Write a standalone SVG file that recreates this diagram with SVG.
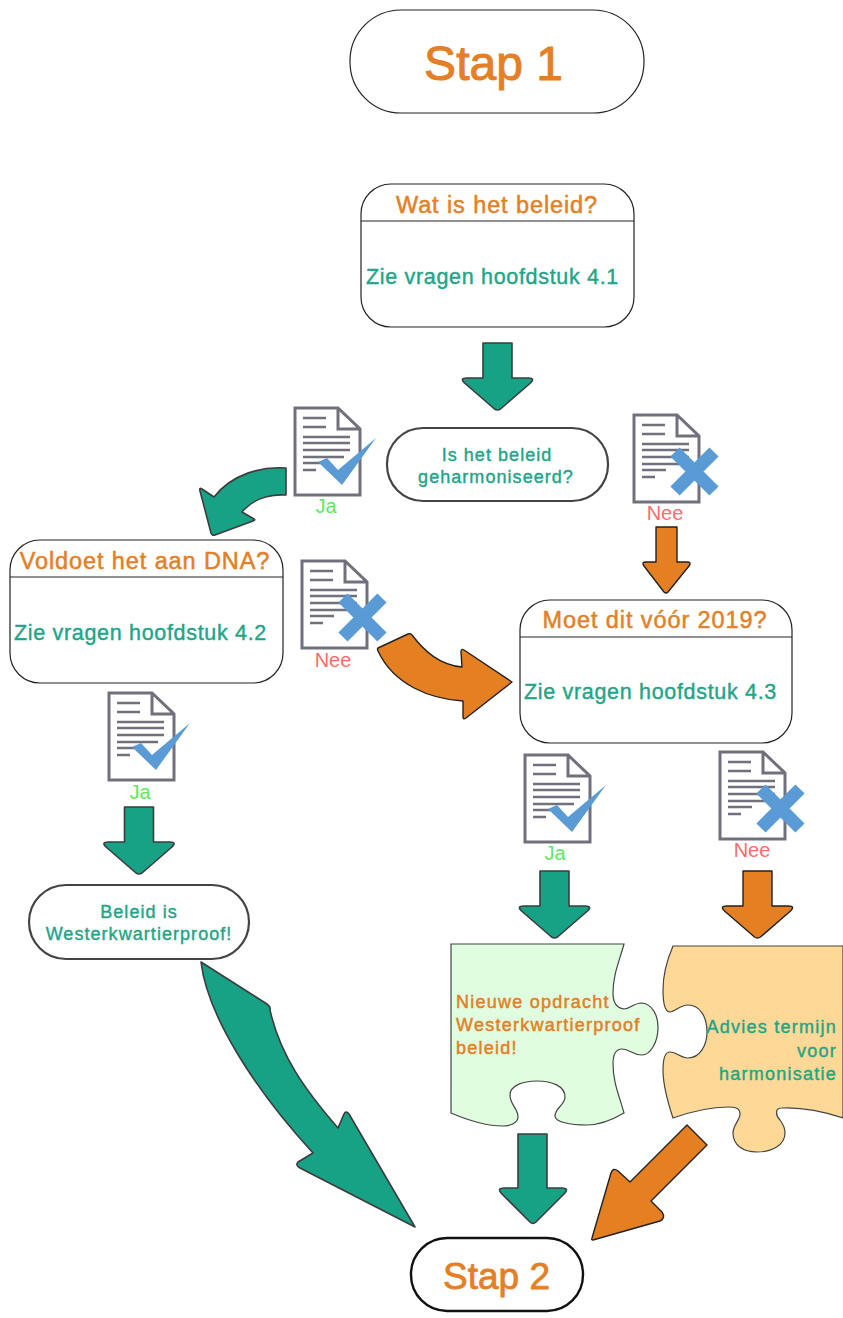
<svg xmlns="http://www.w3.org/2000/svg" xmlns:xlink="http://www.w3.org/1999/xlink" width="843" height="1318" viewBox="0 0 843 1318">
<style>
text{font-family:"Liberation Sans",Arial,sans-serif}
.box{fill:#fff;stroke:#222;stroke-width:1.2}
.pill{fill:#fff;stroke:#444;stroke-width:2.2}
.o{fill:#e47f26}
.t{fill:#1ea587}
.ot{stroke:#e47f26;stroke-width:.5}
.tt{stroke:#1ea587;stroke-width:.4}
.title{font-size:23.5px;text-anchor:middle;letter-spacing:.9px}
.body{font-size:21.5px;letter-spacing:.68px}
.small{font-size:18px;text-anchor:middle;letter-spacing:1.05px}
.puz{font-size:18px;letter-spacing:1.25px}
.ja{font-size:20px;fill:#5ee85e;text-anchor:middle}
.nee{font-size:20px;fill:#ff6b6b;text-anchor:middle}
.arT{fill:#17a185;stroke:#3c3c3c;stroke-width:1.6;stroke-linejoin:round}
.arO{fill:#e47f22;stroke:#222;stroke-width:1.4;stroke-linejoin:round}
.dl{stroke:#70717c;stroke-width:2.3;fill:none}
</style>
<defs>
<g id="doc">
<path d="M1,1H44L66,22V88H1Z M44,1V22H66" fill="#fff" stroke="#70717c" stroke-width="3" stroke-linejoin="miter"/>
<path class="dl" d="M9,11H32M9,20H32M9,30H56M9,36H56M9,43H56M9,50H50M9,56H33M9,63H22"/>
</g>
<g id="docCheck">
<use xlink:href="#doc"/>
<path d="M24,55L33,51L44,63L82,31L48,78Z" fill="#5b9bd5"/>
</g>
<g id="docX">
<use xlink:href="#doc"/>
<path d="M42,38L81,77M81,38L42,77" stroke="#5b9bd5" stroke-width="13" fill="none"/>
</g>
<path id="down" d="M-14.500,0H14.500V35H31Q38,35 33,40L3,66Q0,68 -3,66L-33,40Q-38,35 -31,35H-14.500Z"/>
</defs>

<g id="connectors">
<use xlink:href="#down" class="arT" x="497.500" y="343"/>
<path class="arO" d="M656,527H677V562H687Q692,562 689,566L668,592Q666,594 664,592L644,566Q641,562 646,562H656Z"/>
<use xlink:href="#down" class="arT" x="139" y="807"/>
<use xlink:href="#down" class="arT" x="554.500" y="871"/>
<use xlink:href="#down" class="arO" x="757.500" y="871"/>
<path class="arT" d="M518,1134H547V1188H562Q569,1188 565,1193L536,1222Q533,1225 530,1222L501,1193Q497,1188 504,1188H518Z"/>
<path class="arO" d="M687,1125L707,1145L651,1201L662,1212Q666,1218 660,1221L593,1240Q591,1240 592,1238L611,1173Q613,1167 618,1171L630,1182Z"/>
<path class="arT" d="M286,468C262,466 232,474 214,497L202,489Q199,487 200,491L211,533Q212,536 215,535L253,521Q256,520 254,519L242,512C252,500 268,494 286,495Z"/>
<path class="arT" d="M201,962L267,1004Q271,1007 270,1010C280,1055 305,1090 338,1128L344,1114Q346,1110 349,1114L415,1227L300,1168Q295,1165 298,1162L313,1153C255,1090 207,1015 201,962Z"/>
<path class="arO" d="M378,648L408,634Q411,633 412,635C425,652 440,665 462,667L461,652Q461,648 464,650L512,682L466,718Q463,720 463,717L463,701C430,699 394,685 378,651Q377,649 378,648Z"/>
</g>

<g id="step1">
<rect class="box" x="350" y="10" width="294" height="103" rx="51"/>
<text x="493.500" y="80" font-size="48" text-anchor="middle" class="o" stroke="#e47f26" stroke-width="1">Stap 1</text>
</g>
<g id="beleid">
<rect class="box" x="361" y="184" width="273" height="143" rx="30"/>
<path d="M361,221H634" stroke="#222" stroke-width="1.2"/>
<text x="497" y="213" class="title o ot">Wat is het beleid?</text>
<text x="366" y="284" class="body t tt">Zie vragen hoofdstuk 4.1</text>
</g>
<g id="geharmoniseerd">
<rect class="pill" x="387" y="428" width="221" height="73" rx="36"/>
<text x="497" y="461" class="small t tt">Is het beleid</text>
<text x="496" y="483" class="small t tt">geharmoniseerd?</text>
</g>
<g id="dna">
<rect class="box" x="10" y="540" width="273" height="143" rx="30"/>
<path d="M10,577H283" stroke="#222" stroke-width="1.2"/>
<text x="145" y="569" class="title o ot">Voldoet het aan DNA?</text>
<text x="14" y="640" class="body t tt">Zie vragen hoofdstuk 4.2</text>
</g>
<g id="voor2019">
<rect class="box" x="520" y="600" width="272" height="143" rx="30"/>
<path d="M520,637H792" stroke="#222" stroke-width="1.2"/>
<text x="655" y="628" class="title o ot">Moet dit vóór 2019?</text>
<text x="524" y="699" class="body t tt">Zie vragen hoofdstuk 4.3</text>
</g>
<g id="proof">
<rect class="pill" x="29" y="885" width="220" height="74" rx="37"/>
<text x="139" y="918" class="small t tt">Beleid is</text>
<text x="139" y="940" class="small t tt">Westerkwartierproof!</text>
</g>
<g id="step2">
<rect x="411" y="1238" width="172" height="73" rx="36" fill="#fff" stroke="#111" stroke-width="2.4"/>
<text x="496.500" y="1289" font-size="37" text-anchor="middle" class="o" stroke="#e47f26" stroke-width=".8">Stap 2</text>
</g>

<g id="doc-ja-1"><use xlink:href="#docCheck" x="294" y="407"/><text x="326" y="513" class="ja">Ja</text></g>
<g id="doc-nee-1"><use xlink:href="#docX" x="633" y="414"/><text x="665" y="520" class="nee">Nee</text></g>
<g id="doc-nee-2"><use xlink:href="#docX" x="301" y="560"/><text x="333" y="667" class="nee">Nee</text></g>
<g id="doc-ja-2"><use xlink:href="#docCheck" x="108" y="692"/><text x="140" y="799" class="ja">Ja</text></g>
<g id="doc-ja-3"><use xlink:href="#docCheck" x="524" y="754"/><text x="555" y="860" class="ja">Ja</text></g>
<g id="doc-nee-3"><use xlink:href="#docX" x="719" y="751"/><text x="752" y="857" class="nee">Nee</text></g>

<g id="puzzle-nieuw">
<path d="M451,944H624C619,962 613,975 613,993C613,1003 617,1008 624,1009C630,1009 633,1003 642,1003C652,1004 658,1015 658,1027C658,1043 650,1055 642,1055C632,1055 630,1049 622,1049C615,1049 613,1055 613,1064C613,1082 619,1095 624,1113C612,1120 600,1125 587,1125C570,1125 555,1122 555,1116C555,1108 565,1105 565,1097C565,1086 552,1081 537,1081C522,1081 510,1086 510,1095C510,1105 518,1108 518,1117C518,1123 510,1126 503,1126C485,1126 465,1119 451,1113Z" fill="#e0fde0" stroke="#444" stroke-width="1.2"/>
<text class="puz o ot" x="456" y="1008">Nieuwe opdracht</text>
<text class="puz o ot" x="456" y="1031">Westerkwartierproof</text>
<text class="puz o ot" x="456" y="1054">beleid!</text>
</g>
<g id="puzzle-advies">
<path d="M673,946H843V1118C825,1112 805,1107 782,1108C774,1108 776,1116 780,1120C783,1124 785,1128 785,1133C785,1145 772,1152 757,1152C743,1152 733,1145 733,1133C733,1125 740,1120 740,1114C740,1108 735,1107 728,1107C708,1107 690,1112 673,1118C667,1100 663,1085 663,1070C663,1060 665,1052 670,1052C677,1052 680,1058 688,1058C700,1058 707,1045 707,1032C707,1017 700,1005 688,1005C680,1005 675,1012 670,1012C665,1012 663,1003 663,990C663,975 667,960 673,946Z" fill="#fdd896" stroke="#444" stroke-width="1.2"/>
<text class="puz t tt" x="837" y="1033" text-anchor="end">Advies termijn</text>
<text class="puz t tt" x="837" y="1057" text-anchor="end">voor</text>
<text class="puz t tt" x="837" y="1080" text-anchor="end">harmonisatie</text>
</g>
</svg>
